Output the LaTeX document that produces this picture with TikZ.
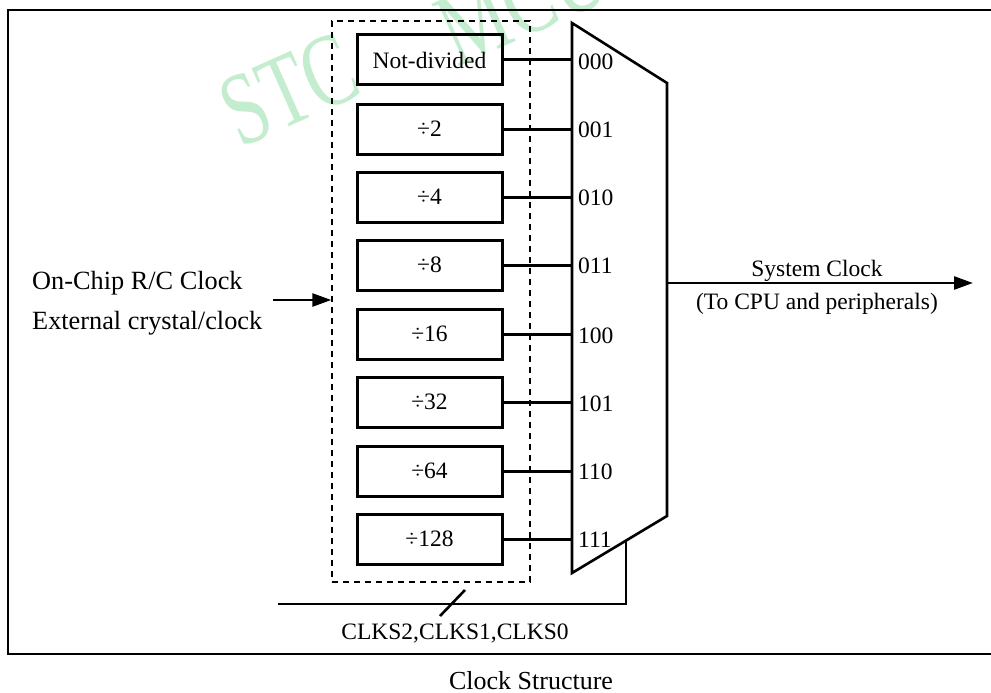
\documentclass[tikz,border=0pt]{standalone}
\usepackage{fontspec}
\setmainfont{Liberation Serif}
\usetikzlibrary{arrows.meta,calc}
\definecolor{wmark}{RGB}{196,236,206}

\begin{document}
\begin{tikzpicture}[x=1pt, y=-1pt,
    divider/.style ={draw, line width=3pt, minimum width=145pt, minimum height=50pt,
                     inner sep=0pt, font=\fontsize{23.5}{28}\selectfont},
    group/.style ={draw, line width=1.4pt, dash pattern=on 6pt off 5pt,
                   minimum width=198pt, minimum height=561pt, inner sep=0pt},
    code/.style ={anchor=west, inner sep=0pt, font=\fontsize{23.5}{28}\selectfont},
    watermark/.style ={text=wmark, inner sep=0pt, rotate=24, xscale=0.72,
                  font=\fontsize{104}{104}\selectfont},
    wire/.style ={line width=3pt},
    sig/.style ={line width=2.6pt, -{Triangle[length=19pt, width=13pt]}}]
   \useasboundingbox (0,0) rectangle (991,693);

   % watermark
   \node[watermark] (W1) at (289,90) {STC};
   \node[watermark] (W2) at (522,2) {MCU};

   % frame
   \draw[line width=2.2pt] (991,10) -- (8,10) -- (8,654) -- (991,654);

   % prescaler
   \node[group] (G) at (431,301.5) {};
   \node[divider] (D0) at (429.5,60)  {Not-divided};
   \node[divider] (D1) at (429.5,129) {÷2};
   \node[divider] (D2) at (429.5,197) {÷4};
   \node[divider] (D3) at (429.5,265) {÷8};
   \node[divider] (D4) at (429.5,334) {÷16};
   \node[divider] (D5) at (429.5,402) {÷32};
   \node[divider] (D6) at (429.5,471) {÷64};
   \node[divider] (D7) at (429.5,539) {÷128};

   % multiplexer
   \coordinate (mtl) at (572,23);
   \coordinate (mtr) at (667,83);
   \coordinate (mbr) at (667,516);
   \coordinate (mbl) at (572,573);
   \draw[line width=2.6pt, line join=miter] (mtl) -- (mtr) -- (mbr) -- (mbl) -- cycle;

   \draw[wire] (D0.east) to (D0.east -| mtl);
   \draw[wire] (D1.east) to (D1.east -| mtl);
   \draw[wire] (D2.east) to (D2.east -| mtl);
   \draw[wire] (D3.east) to (D3.east -| mtl);
   \draw[wire] (D4.east) to (D4.east -| mtl);
   \draw[wire] (D5.east) to (D5.east -| mtl);
   \draw[wire] (D6.east) to (D6.east -| mtl);
   \draw[wire] (D7.east) to (D7.east -| mtl);

   \node[code] (L0) at (578,62)  {000};
   \node[code] (L1) at (578,130) {001};
   \node[code] (L2) at (578,198) {010};
   \node[code] (L3) at (578,266) {011};
   \node[code] (L4) at (578,336) {100};
   \node[code] (L5) at (578,404) {101};
   \node[code] (L6) at (578,472) {110};
   \node[code] (L7) at (578,540) {111};

   % input clock
   \node[align=left, anchor=west, inner sep=0pt, font=\fontsize{26.3}{40}\selectfont]
      (IN) at (32,303) {On-Chip R/C Clock\\External crystal/clock};
   \coordinate (in) at (273,300);
   \draw[sig] (in) to (in -| G.west);

   % system clock
   \coordinate (out) at (973,283);
   \draw[sig] (mtr |- out) to (out);
   \node[inner sep=0pt, font=\fontsize{23.5}{28}\selectfont] (SC) at (817,271) {System Clock};
   \node[inner sep=0pt, font=\fontsize{23.5}{28}\selectfont] (TC) at (817,304) {(To CPU and peripherals)};

   % select
   \coordinate (S) at ($(mbl)!0.568!(mbr)$);
   \coordinate (sel) at (278,604);
   \draw[line width=2.6pt] (S) |- (sel);
   \coordinate (b1) at (440,616);
   \coordinate (b2) at (465,590);
   \draw[line width=2.6pt] (b1) to (b2);
   \node[inner sep=0pt, font=\fontsize{23.5}{28}\selectfont] (CK) at (455,633) {CLKS2,CLKS1,CLKS0};

   \node[inner sep=0pt, font=\fontsize{26}{30}\selectfont] (T) at (531,681) {Clock Structure};
\end{tikzpicture}
\end{document}
